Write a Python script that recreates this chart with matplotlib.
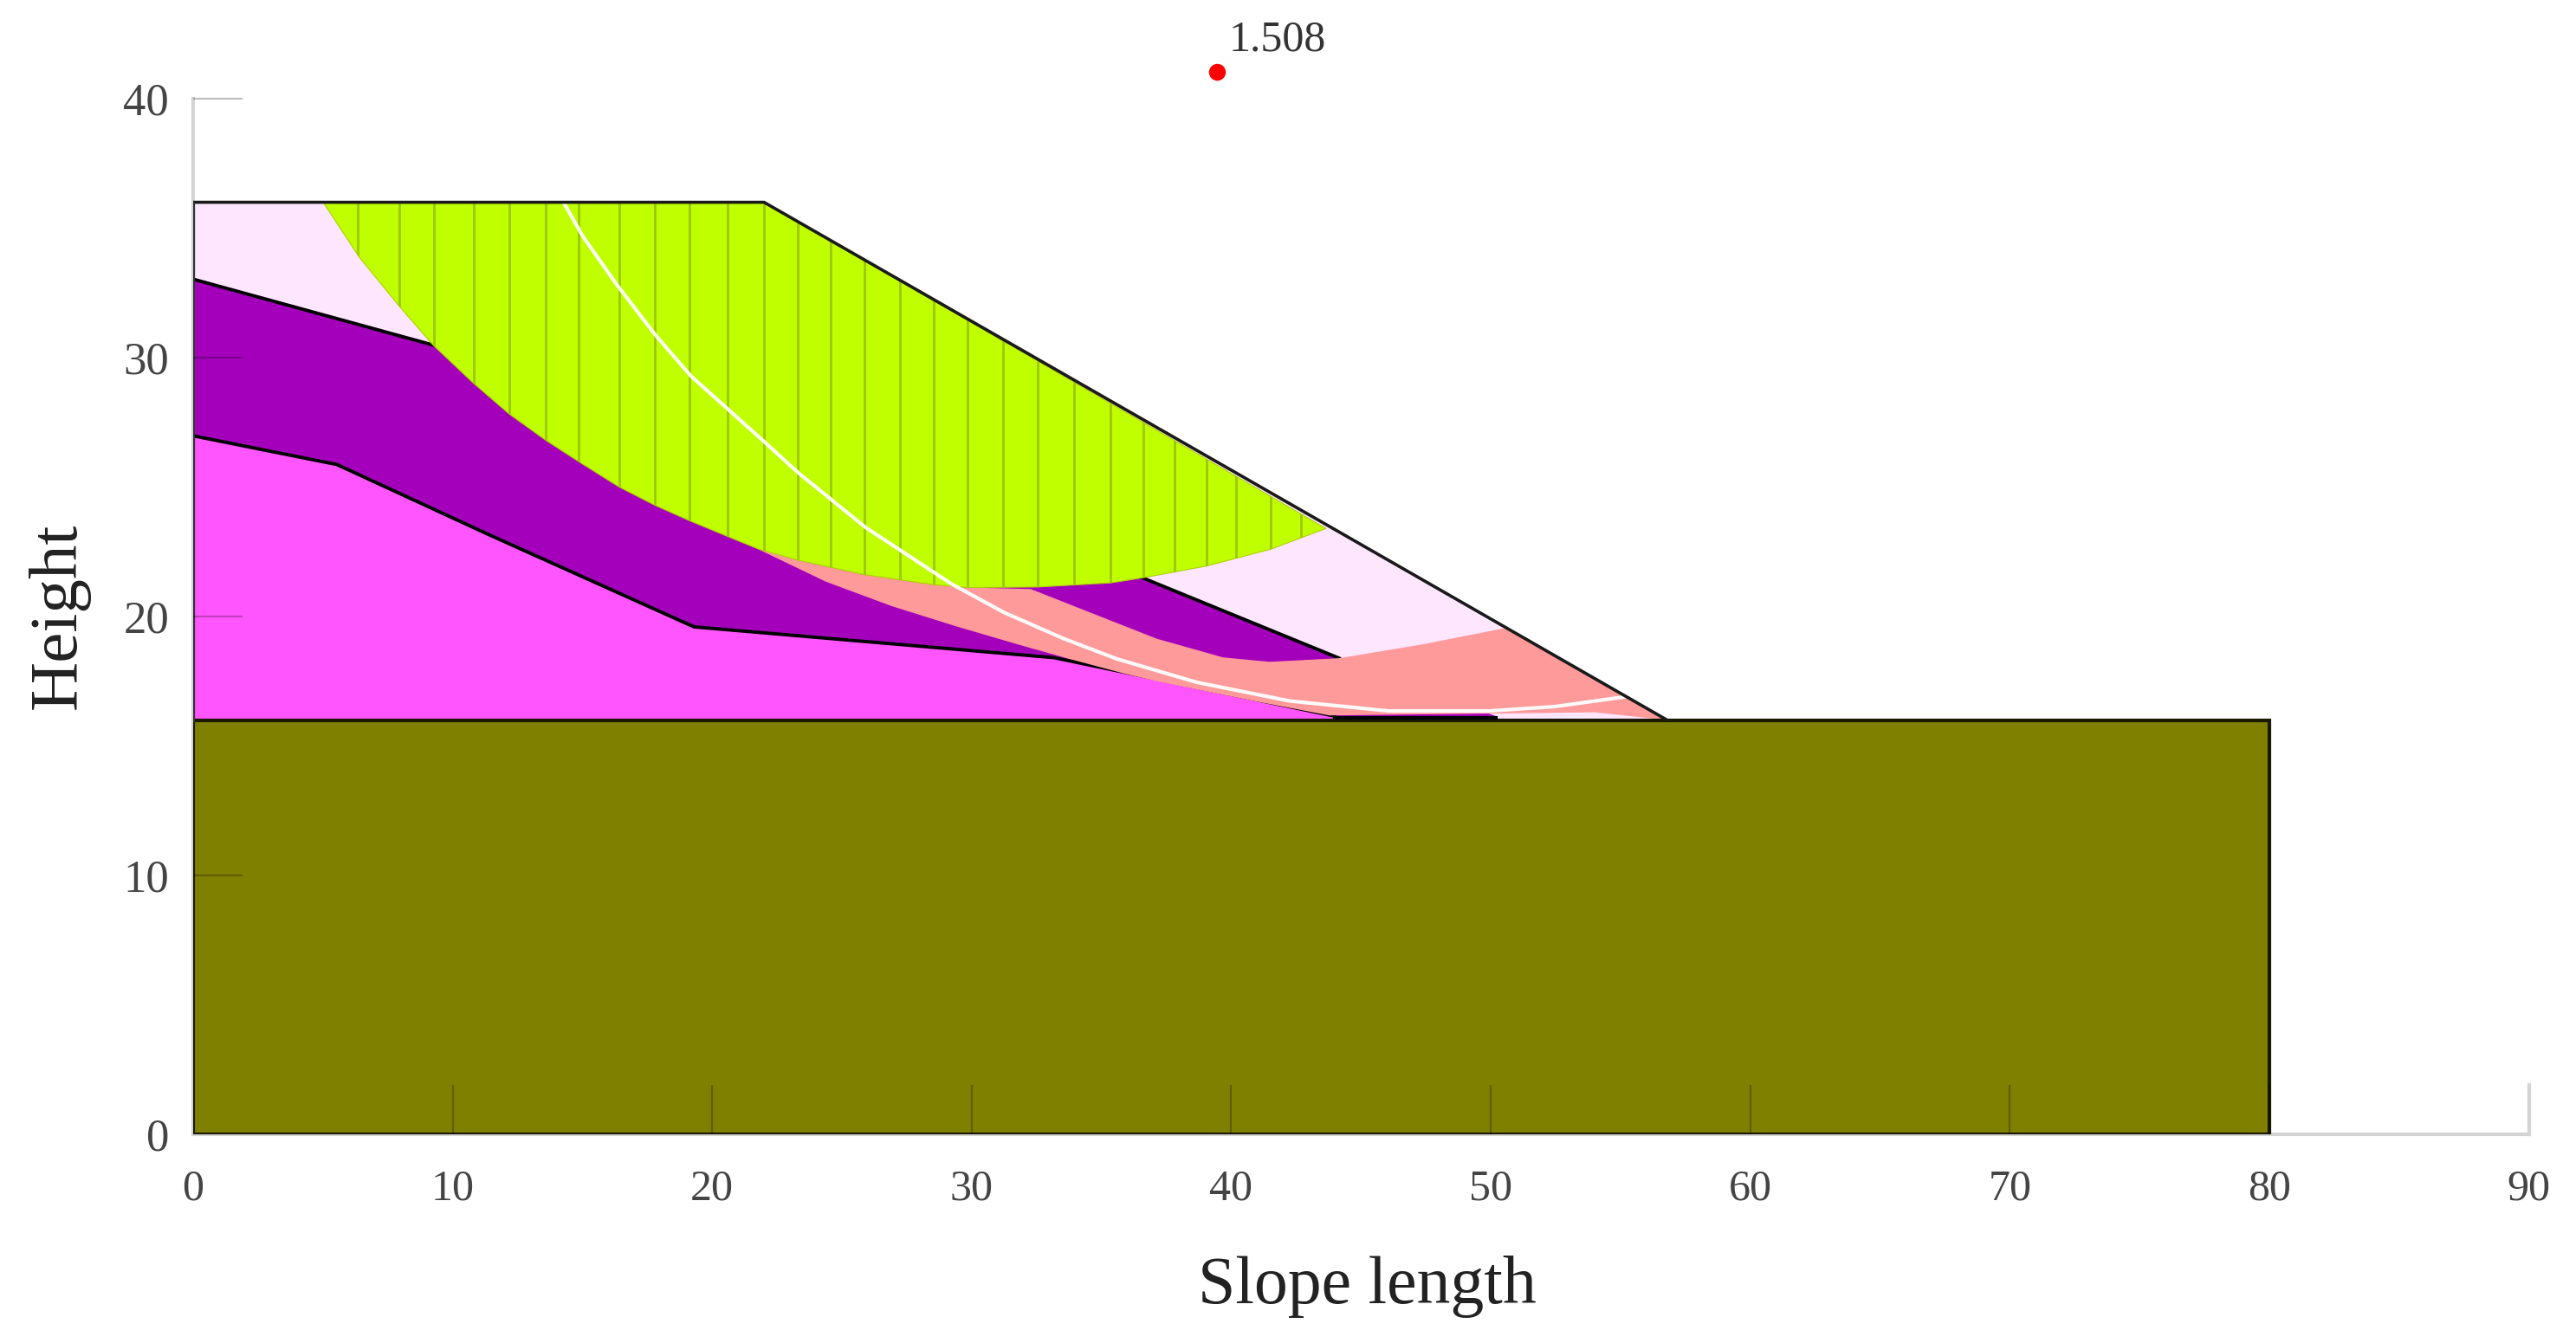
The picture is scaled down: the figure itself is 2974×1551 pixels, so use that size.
import numpy as np
import matplotlib
matplotlib.use("Agg")
import matplotlib.pyplot as plt

plt.rcParams['font.family'] = ['Liberation Serif', 'DejaVu Serif']

# ground surface, toe at about x=56.8
surface_x = [0, 22, 56.8, 80]
surface_y = [36, 36, 16, 16]

# soil layer tops
purple_top_x = [0, 9.38, 36.62, 44.16, 50.2]
purple_top_y = [33.03, 30.45, 21.48, 18.39, 16.15]
magenta_top_x = [0, 5.54, 11.4, 19.3, 33.18, 44.0]
magenta_top_y = [26.98, 25.87, 23.16, 19.6, 18.41, 16.15]

# critical slip surface zone (green part)
arc_x = [5.01, 6.40, 7.93, 9.23, 10.76, 12.17, 13.57, 14.91, 16.42, 17.79, 19.13, 20.53,
         21.8, 23.29, 25.85, 28.53, 29.86, 32.54, 35.35, 36.62, 39.05, 41.52, 43.65]
arc_y = [36, 33.88, 32.0, 30.5, 29.05, 27.83, 26.82, 25.95, 25.0, 24.3, 23.7, 23.12,
         22.6, 22.18, 21.62, 21.23, 21.12, 21.14, 21.3, 21.5, 21.95, 22.6, 23.4]

# pink band under the green zone
band_top_x = [21.69, 23.29, 25.85, 28.53, 29.86, 32.28]
band_top_y = [22.64, 22.18, 21.62, 21.23, 21.12, 21.06]
band_inner_x = [32.28, 34.58, 37.14, 39.69, 41.48, 44.16, 47.35, 50.54]
band_inner_y = [21.06, 20.15, 19.14, 18.42, 18.25, 18.39, 18.92, 19.55]
band_low_x = [21.69, 24.37, 26.92, 29.47, 32.03, 33.81, 35.86, 37.14, 39.69, 40.96, 43.78]
band_low_y = [22.64, 21.35, 20.4, 19.6, 18.85, 18.35, 17.8, 17.5, 16.98, 16.72, 16.18]
band_bottom_x = [43.78, 50.0, 54.0, 56.8]
band_bottom_y = [16.18, 16.25, 16.3, 16.0]

# slices
slice_x = [6.33, 7.93, 9.29, 10.83, 12.17, 13.57, 14.85, 16.42, 17.79, 19.13, 20.6, 22.0,
           23.29, 24.55, 25.86, 27.23, 28.53, 29.84, 31.21, 32.54, 33.94, 35.35, 36.62,
           37.83, 39.05, 40.19, 41.52, 42.69]

# white line
white_x = [14.27, 15.02, 16.3, 17.79, 19.17, 21.84, 23.32, 25.9, 29.22, 31.26, 33.56, 35.6,
           38.67, 42.24, 46.08, 49.9, 52.46, 55.27]
white_y = [36, 34.68, 32.85, 30.9, 29.3, 26.9, 25.55, 23.45, 21.26, 20.15, 19.14, 18.36,
           17.46, 16.74, 16.35, 16.35, 16.52, 16.91]

centre_x = [39.46]
centre_y = [41.04]
safety = "1.508"

fig = plt.figure(figsize=(29.74, 15.51), dpi=100)
ax = fig.add_axes([223 / 2974, (1551 - 1310) / 1551, (2919.5 - 223) / 2974, (1310 - 114) / 1551])
ax.set_xlim(0, 90)
ax.set_ylim(0, 40)

# bedrock
ax.fill([0, 80, 80, 0], [0, 0, 16, 16], color="#808000", ec="#1A1A00", lw=3, zorder=6)

# soil layers, top one first
ax.fill([0] + surface_x[:3] + [0], [16] + surface_y[:3] + [16], color="#FFE6FF", lw=0, zorder=1)
ax.fill(purple_top_x + [0], purple_top_y + [16], color="#A400BC", lw=0, zorder=2)
ax.fill(magenta_top_x + [50.2, 0], magenta_top_y + [16.0, 16], color="#FF55FF", lw=0, zorder=3)
ax.plot(purple_top_x[:4], purple_top_y[:4], color="black", lw=2.8, zorder=4)
ax.plot(magenta_top_x, magenta_top_y, color="black", lw=2.8, zorder=4)
ax.plot([44.0, 50.2], [16.1, 16.1], color="black", lw=3, zorder=7)

# pink band
band_x = band_top_x + band_inner_x[1:] + band_bottom_x[::-1] + band_low_x[::-1][1:]
band_y = band_top_y + band_inner_y[1:] + band_bottom_y[::-1] + band_low_y[::-1][1:]
ax.fill(band_x, band_y, color="#FF9A9A", lw=0, zorder=5)

# green zone with slice lines
green = ax.fill([5.01, 22, 43.65] + arc_x[::-1][1:], [36, 36, 23.4] + arc_y[::-1][1:],
                color="#BFFF00", ec="#B0D000", lw=0.8, zorder=5.5)[0]
lines = ax.vlines(slice_x, 0, 40, color="#9CC800", lw=2, zorder=5.6)
lines.set_clip_path(green)

# white line
ax.plot(white_x, white_y, color="white", lw=3, alpha=0.95, zorder=5.8,
        solid_capstyle="round", solid_joinstyle="round")

# outline
ax.plot(surface_x[:3], surface_y[:3], color="#1A1A1A", lw=2.6, zorder=7)
ax.plot([0, 0], [16, 36], color="#333333", lw=2.4, zorder=7)

ax.plot(centre_x, centre_y, "o", color="red", ms=14, mew=0, clip_on=False, zorder=8)
ax.text(39.9, 42.28, safety, fontsize=36, color="#333333", ha="left", va="center", clip_on=False)

for s in ["top", "right"]:
    ax.spines[s].set_visible(False)
for s in ["left", "bottom"]:
    ax.spines[s].set_color("#D4D4D4")
    ax.spines[s].set_linewidth(3)

ax.set_xticks(range(0, 91, 10))
ax.set_yticks(range(0, 41, 10))
ax.tick_params(axis="x", direction="in", length=41, width=1.6, color=(0, 0, 0, 0.25),
               labelsize=36, labelcolor="#444444", pad=29)
ax.tick_params(axis="y", direction="in", length=41, width=1.6, color=(0, 0, 0, 0.25),
               labelsize=38, labelcolor="#444444", pad=20)
ax.xaxis.set_zorder(9)
ax.yaxis.set_zorder(9)
ax.xaxis.get_major_ticks()[-1].tick1line.set_visible(False)
ax.xaxis.get_major_ticks()[0].tick1line.set_visible(False)
ax.yaxis.get_major_ticks()[0].tick1line.set_visible(False)

# right end of the x axis
ax.plot([90, 90], [0, 1.9], color="#D4D4D4", lw=3, clip_on=False, zorder=1)

fig.text(1578 / 2974, 1 - 1486 / 1551, "Slope length", fontsize=56, color="#222222",
         ha="center", va="center")
fig.text(68 / 2974, 1 - 711 / 1551, "Height", fontsize=57, color="#222222",
         ha="center", va="center", rotation=90)

fig.savefig("out.png", dpi=100)
